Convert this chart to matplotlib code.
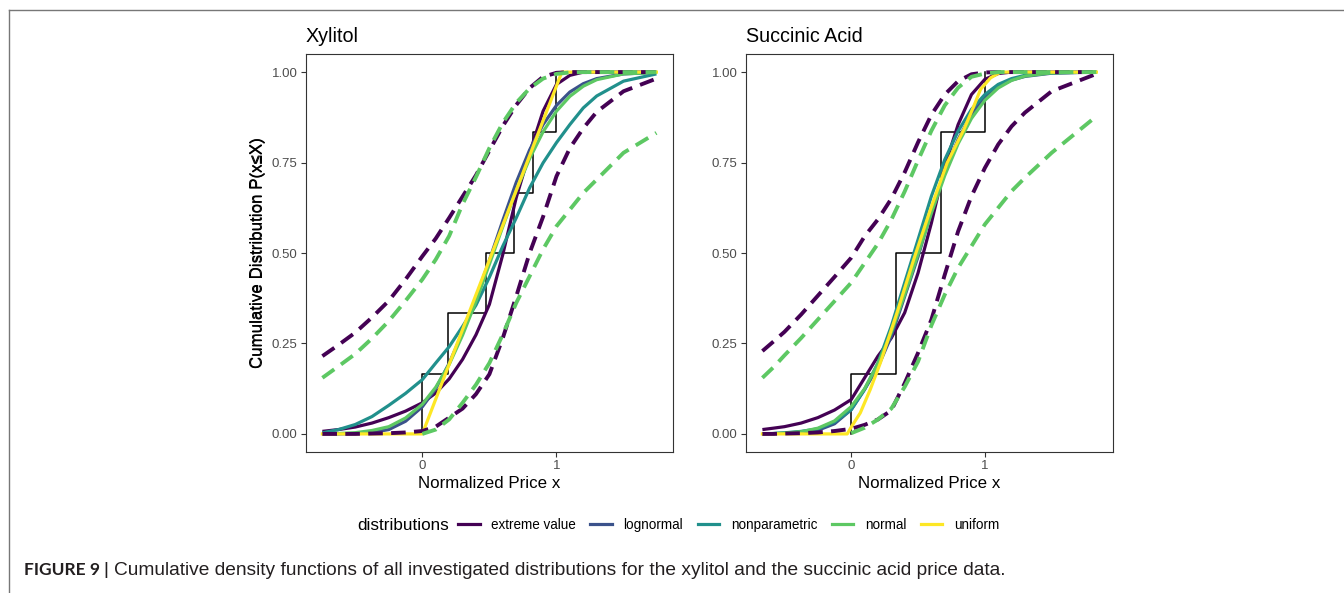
import numpy as np
import matplotlib.pyplot as plt
from matplotlib.lines import Line2D

plt.rcParams['font.family'] = ['Liberation Sans', 'DejaVu Sans']
plt.rcParams['lines.scale_dashes'] = False

# Kolory (viridis, 5 rozkladow)
dist_names = ['extreme value', 'lognormal', 'nonparametric', 'normal', 'uniform']
dist_colors = ['#440154', '#3B528B', '#21908C', '#5DC863', '#FDE725']

# ---------------- Xylitol ----------------
xyl_prices = [0.0, 0.194, 0.474, 0.685, 0.826, 1.0]
xyl_x = [-0.745, -0.625, -0.5, -0.375, -0.25, -0.125, 0.0, 0.1, 0.2, 0.3, 0.4, 0.5,
         0.6, 0.7, 0.8, 0.9, 1.0, 1.1, 1.2, 1.3, 1.5, 1.745]
xyl_ev = [0.007, 0.012, 0.019, 0.03, 0.045, 0.063, 0.086, 0.113, 0.152, 0.206, 0.274,
          0.358, 0.496, 0.653, 0.777, 0.892, 0.966, 0.991, 1.0, 1.0, 1.0, 1.0]
xyl_lognormal = [0.0, 0.0, 0.001, 0.004, 0.012, 0.035, 0.075, 0.125, 0.195, 0.28, 0.375,
                 0.48, 0.59, 0.695, 0.785, 0.855, 0.908, 0.945, 0.968, 0.982, 0.995, 0.999]
xyl_nonpar = [0.003, 0.012, 0.026, 0.048, 0.079, 0.112, 0.150, 0.196, 0.241, 0.297, 0.356,
              0.433, 0.519, 0.597, 0.68, 0.749, 0.805, 0.855, 0.901, 0.934, 0.975, 0.995]
xyl_normal = [0.0004, 0.0012, 0.0034, 0.0095, 0.020, 0.044, 0.082, 0.129, 0.192, 0.273,
              0.366, 0.469, 0.573, 0.673, 0.761, 0.835, 0.892, 0.933, 0.961, 0.979, 0.995,
              0.999]
xyl_unif_x = [-0.745, 0.0, 1.04, 1.745]
xyl_unif_y = [0.0, 0.0, 1.0, 1.0]
# przedzialy (linie przerywane)
xyl_ev_left = [0.215, 0.246, 0.280, 0.322, 0.368, 0.427, 0.491, 0.540, 0.597, 0.656,
               0.715, 0.783, 0.851, 0.909, 0.956, 0.987, 0.998, 1.0, 1.0, 1.0, 1.0, 1.0]
xyl_norm_left = [0.155, 0.187, 0.221, 0.264, 0.312, 0.368, 0.427, 0.482, 0.547, 0.635,
                 0.71, 0.79, 0.86, 0.915, 0.955, 0.982, 0.995, 0.999, 1.0, 1.0, 1.0, 1.0]
xyl_ev_right = [0.0, 0.0, 0.0, 0.001, 0.002, 0.004, 0.008, 0.02, 0.045, 0.07, 0.11, 0.165,
                0.265, 0.38, 0.50, 0.60, 0.712, 0.79, 0.845, 0.89, 0.947, 0.982]
xyl_norm_right = [np.nan, np.nan, np.nan, np.nan, np.nan, np.nan, 0.0, 0.012, 0.04, 0.086,
                  0.136, 0.196, 0.275, 0.362, 0.436, 0.51, 0.574, 0.62, 0.666, 0.703,
                  0.777, 0.832]

# ---------------- Succinic Acid ----------------
suc_prices = [0.0, 0.335, 0.335, 0.6725, 0.6725, 1.0]
suc_x = [-0.665, -0.58, -0.5, -0.375, -0.25, -0.125, 0.0, 0.1, 0.2, 0.3, 0.4, 0.5,
         0.6, 0.7, 0.8, 0.9, 1.0, 1.1, 1.2, 1.3, 1.5, 1.835]
suc_ev = [0.012, 0.016, 0.02, 0.03, 0.045, 0.066, 0.095, 0.155, 0.215, 0.265, 0.335,
          0.445, 0.583, 0.74, 0.855, 0.938, 0.98, 0.996, 1.0, 1.0, 1.0, 1.0]
suc_lognormal = [0.0, 0.001, 0.002, 0.005, 0.01, 0.028, 0.067, 0.123, 0.185, 0.27, 0.38,
                 0.49, 0.616, 0.726, 0.814, 0.883, 0.929, 0.961, 0.978, 0.988, 0.997, 1.0]
suc_nonpar = [0.0, 0.001, 0.003, 0.007, 0.014, 0.033, 0.067, 0.123, 0.196, 0.298, 0.418,
              0.537, 0.657, 0.758, 0.837, 0.897, 0.938, 0.966, 0.982, 0.991, 0.998, 1.0]
suc_normal = [0.0004, 0.001, 0.0021, 0.006, 0.0158, 0.036, 0.0755, 0.125, 0.194, 0.281,
              0.385, 0.497, 0.610, 0.714, 0.802, 0.872, 0.922, 0.956, 0.977, 0.989, 0.998,
              1.0]
suc_unif_x = [-0.665, -0.03, 0.0, 0.0675, 0.1425, 0.2175, 0.3425, 0.4675, 0.5925,
              0.7175, 0.8425, 0.9175, 0.9675, 1.0425, 1.1175, 1.835]
suc_unif_y = [0.0, 0.0, 0.019, 0.058, 0.123, 0.196, 0.335, 0.482, 0.62, 0.749,
              0.841, 0.906, 0.952, 0.984, 1.0, 1.0]
suc_ev_left = [0.229, 0.256, 0.282, 0.33, 0.382, 0.434, 0.487, 0.546, 0.593, 0.65, 0.723,
               0.806, 0.882, 0.938, 0.975, 0.994, 0.999, 1.0, 1.0, 1.0, 1.0, 1.0]
suc_norm_left = [0.155, 0.185, 0.217, 0.265, 0.316, 0.367, 0.418, 0.472, 0.526, 0.592,
                 0.670, 0.756, 0.838, 0.908, 0.957, 0.987, 0.996, 1.0, 1.0, 1.0, 1.0, 1.0]
suc_ev_right = [0.0, 0.0, 0.001, 0.002, 0.004, 0.008, 0.014, 0.025, 0.04, 0.065, 0.14,
                0.224, 0.316, 0.44, 0.56, 0.657, 0.735, 0.80, 0.85, 0.888, 0.947, 0.995]
suc_norm_right = [np.nan, np.nan, np.nan, np.nan, np.nan, np.nan, 0.002, 0.017, 0.04,
                  0.07, 0.13, 0.20, 0.30, 0.385, 0.459, 0.519, 0.579, 0.625, 0.671, 0.708,
                  0.777, 0.878]

panels = [
    dict(title='Xylitol', prices=xyl_prices, x=xyl_x,
         curves=[xyl_ev, xyl_lognormal, xyl_nonpar, xyl_normal],
         unif=(xyl_unif_x, xyl_unif_y),
         bands=[(xyl_ev_left, dist_colors[0]), (xyl_ev_right, dist_colors[0]),
                (xyl_norm_left, dist_colors[3]), (xyl_norm_right, dist_colors[3])]),
    dict(title='Succinic Acid', prices=suc_prices, x=suc_x,
         curves=[suc_ev, suc_lognormal, suc_nonpar, suc_normal],
         unif=(suc_unif_x, suc_unif_y),
         bands=[(suc_ev_left, dist_colors[0]), (suc_ev_right, dist_colors[0]),
                (suc_norm_left, dist_colors[3]), (suc_norm_right, dist_colors[3])]),
]

W, H = 1344, 593
fig = plt.figure(figsize=(W / 100, H / 100), dpi=100)

ax_lefts = [305.7, 745.7]
ax_w, ax_top, ax_bot = 367.4, 54, 452

for i, p in enumerate(panels):
    ax = fig.add_axes([ax_lefts[i] / W, 1 - ax_bot / H, ax_w / W, (ax_bot - ax_top) / H])

    # dystrybuanta empiryczna (schodki)
    pr = np.sort(p['prices'])
    n = len(pr)
    sx = np.repeat(pr, 2)
    sy = np.concatenate([[0], np.repeat(np.arange(1, n + 1) / n, 2)[:-1]])
    ax.plot(sx, sy, color='black', lw=1.1, zorder=2)

    for y, c in zip(p['curves'], dist_colors[:4]):
        ax.plot(p['x'], y, color=c, lw=2.3, solid_capstyle='butt', zorder=3)
    ax.plot(p['unif'][0], p['unif'][1], color=dist_colors[4], lw=2.3, zorder=3)

    for y, c in p['bands']:
        ax.plot(p['x'], y, color=c, lw=2.8, dashes=(10.5, 6.0),
                dash_capstyle='butt', zorder=4)

    xs = np.array(p['x'])
    span = xs.max() - xs.min()
    ax.set_xlim(xs.min() - 0.05 * span, xs.max() + 0.05 * span)
    ax.set_ylim(-0.05, 1.05)
    ax.set_xticks([0, 1])
    ax.set_xticklabels(['0', '1'])
    ax.set_yticks([0, 0.25, 0.5, 0.75, 1.0])
    ax.set_yticklabels(['0.00', '0.25', '0.50', '0.75', '1.00'])
    ax.tick_params(length=3.6, width=0.8, color='#333333', labelcolor='#4D4D4D',
                   labelsize=9.5, pad=2.2)
    for s in ax.spines.values():
        s.set_color('#333333')
        s.set_linewidth(0.8)
    ax.set_title(p['title'], loc='left', fontsize=14.2, pad=8.8)
    ax.set_xlabel('Normalized Price x', fontsize=12.2, va='center')
    ax.xaxis.set_label_coords(0.5, -(484 - ax_bot) / (ax_bot - ax_top))
    ax.set_ylabel('Cumulative Distribution P(x≤X)', fontsize=12.2, va='center')
    ax.yaxis.set_label_coords((258 - ax_lefts[i]) / ax_w, 0.5)

# legenda
fig.text(357 / W, 1 - 525 / H, 'distributions', fontsize=12.3, va='center', ha='left')
handles = [Line2D([], [], color=c, lw=2.3) for c in dist_colors]
fig.legend(handles, dist_names, loc='center left', bbox_to_anchor=(458 / W, 1 - 525 / H),
           ncol=5, frameon=False, fontsize=9.75, handlelength=1.6, handletextpad=0.84,
           columnspacing=1.08, borderpad=0, borderaxespad=0)

# ramka strony
fig.add_artist(Line2D([9.3 / W, 1], [1 - 10.3 / H, 1 - 10.3 / H], transform=fig.transFigure,
                      color='#777777', lw=1.0))
fig.add_artist(Line2D([9.3 / W, 9.3 / W], [0, 1 - 10.3 / H], transform=fig.transFigure,
                      color='#777777', lw=1.0))

# podpis
t1 = fig.text(24.5 / W, 1 - 575 / H, 'FIGURE 9 |', fontsize=12.5, fontweight='bold',
              family=['Lato', 'Liberation Sans'], va='baseline', color='#231F20')
fig.canvas.draw()
bb = t1.get_window_extent()
fig.text((bb.x1 + 5) / W, 1 - 575 / H,
         'Cumulative density functions of all investigated distributions for the xylitol '
         'and the succinic acid price data.', fontsize=13.8, va='baseline', color='#231F20')

fig.savefig('out.png', dpi=100)
